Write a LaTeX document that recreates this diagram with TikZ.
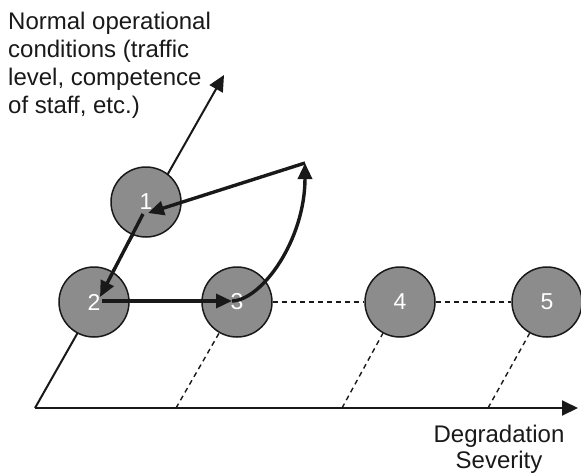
\documentclass[tikz,border=0pt]{standalone}
\usepackage{fontspec}
\setmainfont{Liberation Sans}
\usetikzlibrary{arrows.meta}
\definecolor{circfill}{RGB}{140,140,140}
\definecolor{linecol}{RGB}{25,25,25}
\pgfdeclarelayer{bg}
\pgfsetlayers{bg,main}
\tikzset{
  state/.style={circle, draw=linecol, line width=1.5pt, fill=circfill, minimum size=70pt, inner sep=0pt, text=white, font=\fontsize{23}{23}\selectfont},
  axisline/.style={line width=2pt, draw=linecol, -{Triangle[length=16pt,width=15pt]}},
  flow/.style={line width=3.4pt, draw=linecol, -{Triangle[length=16pt,width=14pt]}},
  guide/.style={line width=1.4pt, dash pattern=on 5pt off 4pt, draw=linecol},
  axtext/.style={font=\fontsize{24}{28}\selectfont, inner sep=0pt, text=linecol}
}
\begin{document}
\begin{tikzpicture}[x=1pt,y=-1pt]
\useasboundingbox (0,0) rectangle (581,475);
\node[state] (c1) at (146,202) {1};
\node[state] (c2) at (94,302) {2};
\node[state] (c3) at (237,302) {3};
\node[state] (c4) at (400,302) {4};
\node[state] (c5) at (547,302) {5};
\coordinate (O) at (35,408);
\coordinate (X) at (578,408);
\coordinate (Y) at (224,75);
\coordinate (a3) at (176,408);
\coordinate (a4) at (342,408);
\coordinate (a5) at (488,408);
\coordinate (P) at (305,163);
\begin{pgfonlayer}{bg}
  \draw[axisline] (O) -- (X);
  \draw[axisline] (O) -- (Y);
  \draw[guide] (a3) -- (c3);
  \draw[guide] (a4) -- (c4);
  \draw[guide] (a5) -- (c5);
  \draw[guide] (c3) -- (c4);
  \draw[guide] (c4) -- (c5);
\end{pgfonlayer}
\draw[flow] ([xshift=8pt,yshift=1pt]c2.center) -- ([xshift=-5pt,yshift=1pt]c3.center);
\draw[flow] ([xshift=-5pt,yshift=1pt]c3.center) .. controls (262,300) and (305,240) .. (P);
\draw[flow] (P) -- ([xshift=2pt,yshift=-11pt]c1.center);
\draw[flow] ([xshift=-3pt,yshift=-12pt]c1.center) -- ([xshift=6pt,yshift=5pt]c2.center);
\node[axtext, anchor=base west, align=left] (ytext) at (8,113) {Normal operational\\conditions (traffic\\level, competence\\of staff, etc.)};
\node[axtext, anchor=base, align=center, font=\fontsize{24}{26}\selectfont] (xtext) at (499,468) {Degradation\\Severity};
\end{tikzpicture}
\end{document}
